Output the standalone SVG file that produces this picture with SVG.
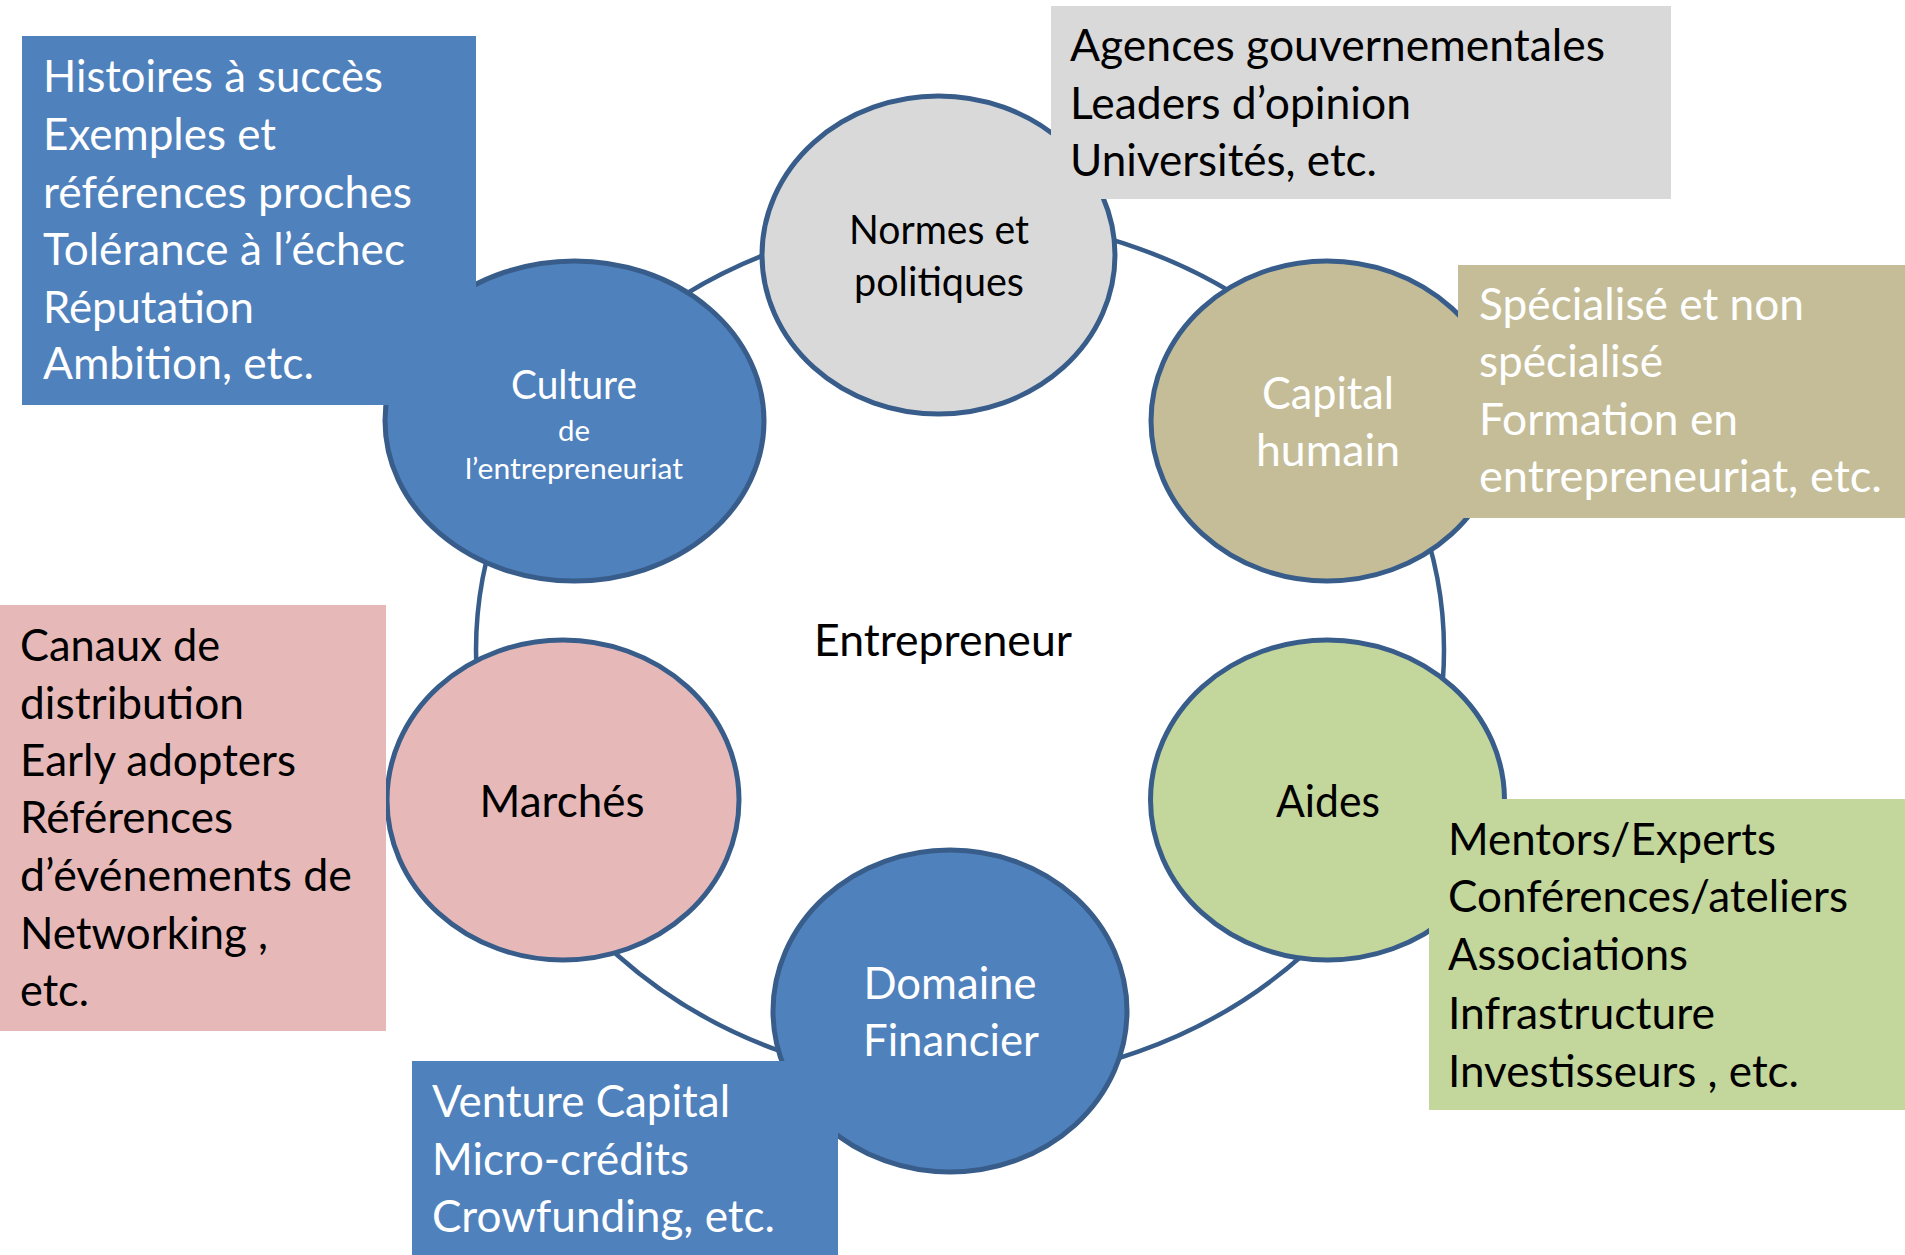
<svg xmlns="http://www.w3.org/2000/svg" width="1905" height="1255" viewBox="0 0 1905 1255">
<style>
text{font-family:Lato,"Open Sans","Liberation Sans",sans-serif;}
.big{font-size:44px;}
.mid{font-size:40px;}
.sm{font-size:29px;}
.w{fill:#ffffff;}
.k{fill:#000000;}
.c{text-anchor:middle;}
.node{stroke:#385D8A;stroke-width:5;}
.blue{fill:#4F81BD;}
.gray{fill:#D9D9D9;}
.tan{fill:#C4BD97;}
.pink{fill:#E6B9B8;}
.green{fill:#C3D69B;}
.ring{fill:none;stroke:#385D8A;stroke-width:4.5;}
</style>
<rect x="0" y="0" width="1905" height="1255" fill="#ffffff"/>
<g id="connectors">
<ellipse class="ring" cx="960" cy="650" rx="484" ry="432"/>
</g>
<g id="center">
<text class="big k c" x="943" y="656" textLength="258" lengthAdjust="spacingAndGlyphs">Entrepreneur</text>
</g>
<g id="node-normes">
<ellipse class="node gray" cx="938.5" cy="255" rx="176.5" ry="159"/>
<text class="mid k c" x="939" y="244" textLength="180" lengthAdjust="spacingAndGlyphs">Normes et</text>
<text class="mid k c" x="939" y="296" textLength="170" lengthAdjust="spacingAndGlyphs">politiques</text>
</g>
<g id="node-capital">
<ellipse class="node tan" cx="1327" cy="421" rx="176" ry="160"/>
<text class="big w c" x="1328" y="409" textLength="132" lengthAdjust="spacingAndGlyphs">Capital</text>
<text class="big w c" x="1328" y="466" textLength="144" lengthAdjust="spacingAndGlyphs">humain</text>
</g>
<g id="node-aides">
<ellipse class="node green" cx="1327.5" cy="800" rx="177" ry="160"/>
<text class="big k c" x="1328" y="817" textLength="104" lengthAdjust="spacingAndGlyphs">Aides</text>
</g>
<g id="node-domaine">
<ellipse class="node blue" cx="950" cy="1011" rx="177" ry="161"/>
<text class="big w c" x="950" y="999" textLength="173" lengthAdjust="spacingAndGlyphs">Domaine</text>
<text class="big w c" x="951" y="1056" textLength="176" lengthAdjust="spacingAndGlyphs">Financier</text>
</g>
<g id="node-marches">
<ellipse class="node pink" cx="563" cy="800" rx="176" ry="160"/>
<text class="big k c" x="562" y="817" textLength="165" lengthAdjust="spacingAndGlyphs">Marchés</text>
</g>
<g id="node-culture">
<ellipse class="node blue" cx="574.5" cy="421" rx="189.5" ry="160"/>
<text class="mid w c" x="574" y="399" textLength="126" lengthAdjust="spacingAndGlyphs">Culture</text>
<text class="sm w c" x="574" y="441" textLength="32" lengthAdjust="spacingAndGlyphs">de</text>
<text class="sm w c" x="574" y="479" textLength="218" lengthAdjust="spacingAndGlyphs">l’entrepreneuriat</text>
</g>
<g id="box-culture">
<rect class="blue" x="22" y="36" width="454" height="369"/>
<text class="big w" x="43" y="92" textLength="340" lengthAdjust="spacingAndGlyphs">Histoires à succès</text>
<text class="big w" x="43" y="150" textLength="233" lengthAdjust="spacingAndGlyphs">Exemples et</text>
<text class="big w" x="43" y="208" textLength="369" lengthAdjust="spacingAndGlyphs">références proches</text>
<text class="big w" x="43" y="265" textLength="362" lengthAdjust="spacingAndGlyphs">Tolérance à l’échec</text>
<text class="big w" x="43" y="323" textLength="211" lengthAdjust="spacingAndGlyphs">Réputation</text>
<text class="big w" x="43" y="379" textLength="271" lengthAdjust="spacingAndGlyphs">Ambition, etc.</text>
</g>
<g id="box-normes">
<rect class="gray" x="1051" y="6" width="620" height="193"/>
<text class="big k" x="1070" y="61" textLength="535" lengthAdjust="spacingAndGlyphs">Agences gouvernementales</text>
<text class="big k" x="1070" y="119" textLength="341" lengthAdjust="spacingAndGlyphs">Leaders d’opinion</text>
<text class="big k" x="1070" y="176" textLength="307" lengthAdjust="spacingAndGlyphs">Universités, etc.</text>
</g>
<g id="box-capital">
<rect class="tan" x="1458" y="265" width="447" height="253"/>
<text class="big w" x="1479" y="320" textLength="325" lengthAdjust="spacingAndGlyphs">Spécialisé et non</text>
<text class="big w" x="1479" y="377" textLength="184" lengthAdjust="spacingAndGlyphs">spécialisé</text>
<text class="big w" x="1479" y="435" textLength="259" lengthAdjust="spacingAndGlyphs">Formation en</text>
<text class="big w" x="1479" y="492" textLength="403" lengthAdjust="spacingAndGlyphs">entrepreneuriat, etc.</text>
</g>
<g id="box-aides">
<rect class="green" x="1429" y="799" width="476" height="311"/>
<text class="big k" x="1448" y="855" textLength="328" lengthAdjust="spacingAndGlyphs">Mentors/Experts</text>
<text class="big k" x="1448" y="912" textLength="400" lengthAdjust="spacingAndGlyphs">Conférences/ateliers</text>
<text class="big k" x="1448" y="970" textLength="240" lengthAdjust="spacingAndGlyphs">Associations</text>
<text class="big k" x="1448" y="1029" textLength="267" lengthAdjust="spacingAndGlyphs">Infrastructure</text>
<text class="big k" x="1448" y="1087" textLength="351" lengthAdjust="spacingAndGlyphs">Investisseurs , etc.</text>
</g>
<g id="box-domaine">
<rect class="blue" x="412" y="1061" width="426" height="194"/>
<text class="big w" x="432" y="1117" textLength="298" lengthAdjust="spacingAndGlyphs">Venture Capital</text>
<text class="big w" x="432" y="1175" textLength="257" lengthAdjust="spacingAndGlyphs">Micro-crédits</text>
<text class="big w" x="432" y="1232" textLength="343" lengthAdjust="spacingAndGlyphs">Crowfunding, etc.</text>
</g>
<g id="box-marches">
<rect class="pink" x="0" y="605" width="386" height="426"/>
<text class="big k" x="20" y="661" textLength="200" lengthAdjust="spacingAndGlyphs">Canaux de</text>
<text class="big k" x="20" y="719" textLength="224" lengthAdjust="spacingAndGlyphs">distribution</text>
<text class="big k" x="20" y="776" textLength="276" lengthAdjust="spacingAndGlyphs">Early adopters</text>
<text class="big k" x="20" y="833" textLength="213" lengthAdjust="spacingAndGlyphs">Références</text>
<text class="big k" x="20" y="891" textLength="332" lengthAdjust="spacingAndGlyphs">d’événements de</text>
<text class="big k" x="20" y="949" textLength="248" lengthAdjust="spacingAndGlyphs">Networking ,</text>
<text class="big k" x="20" y="1006" textLength="69" lengthAdjust="spacingAndGlyphs">etc.</text>
</g>
</svg>
